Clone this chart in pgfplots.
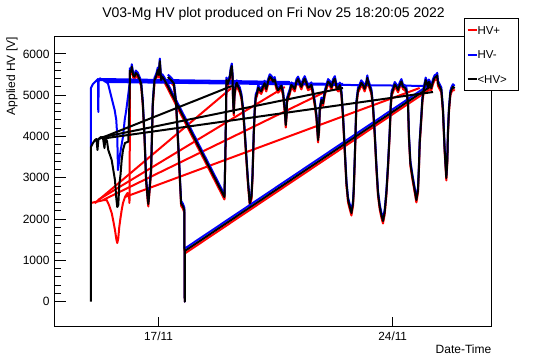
\documentclass[border=0pt]{standalone}
\usepackage{fontspec}
\setmainfont{Liberation Sans}
\usepackage{pgfplots}
\pgfplotsset{compat=1.18}
\usepackage{pgfplotstable}

% x = day of November 2022, y = applied HV [V]
\pgfplotstableread{
d avg hvp hvm
16.148 5609 5549 5669
16.181 5568 5508 5628
16.202 5689 5629 5749
16.241 5488 5428 5548
16.283 5447 5387 5507
16.322 5537 5477 5597
16.381 5488 5428 5548
16.441 5367 5307 5427
16.480 5287 5227 5347
16.531 4803 4743 4863
16.582 3995 3935 4055
16.630 2946 2886 3006
16.681 2462 2402 2522
16.696 2365 2305 2425
16.731 2704 2644 2764
16.779 3188 3128 3248
16.830 4803 4743 4863
16.881 5367 5307 5427
16.928 5447 5387 5507
16.979 5609 5549 5669
17.009 5488 5428 5548
17.039 5827 5767 5887
17.077 5367 5307 5427
17.113 5447 5387 5507
17.179 5367 5307 5427
17.227 5295 5235 5355
18.972 2535 2475 2595
19.001 3673 3613 3733
19.031 5367 5307 5427
19.070 5271 5211 5331
19.130 5416 5356 5476
19.160 5609 5549 5669
19.190 5706 5646 5766
19.211 5488 5428 5548
19.229 4883 4823 4943
19.250 4568 4508 4628
19.271 5004 4944 5064
19.310 5246 5186 5306
19.340 5300 5240 5360
19.379 5205 5145 5265
19.430 5125 5065 5185
19.480 4963 4903 5023
19.528 4641 4581 4701
19.579 4077 4017 4137
19.630 3431 3371 3491
19.677 2866 2806 2926
19.728 2382 2322 2442
19.779 2542 2482 2602
19.809 3026 2966 3086
19.847 4077 4017 4137
19.877 4641 4581 4701
19.907 4963 4903 5023
19.946 5045 4985 5105
19.980 5180 5120 5240
20.027 5125 5065 5185
20.070 5090 5030 5150
20.125 5205 5145 5265
20.170 5290 5230 5350
20.220 5150 5090 5210
20.275 5326 5266 5386
20.326 5447 5387 5507
20.376 5408 5348 5468
20.424 5326 5266 5386
20.470 5380 5320 5440
20.526 5205 5145 5265
20.570 5120 5060 5180
20.624 5166 5106 5226
20.670 5230 5170 5290
20.723 5045 4985 5105
20.774 4641 4581 4701
20.803 4278 4218 4338
20.824 4479 4419 4539
20.842 4883 4823 4943
20.923 5084 5024 5144
20.970 5250 5190 5310
21.021 5205 5145 5265
21.070 5150 5090 5210
21.123 5326 5266 5386
21.170 5390 5330 5450
21.222 5287 5227 5347
21.270 5200 5140 5260
21.320 5326 5266 5386
21.370 5400 5340 5460
21.422 5287 5227 5347
21.470 5180 5120 5240
21.520 5205 5145 5265
21.570 5250 5190 5310
21.619 5045 4985 5105
21.670 4803 4743 4863
21.721 4479 4419 4539
21.768 3915 3855 3975
21.798 4157 4097 4217
21.819 4641 4581 4701
21.870 4883 4823 4943
21.918 4803 4743 4863
21.968 5045 4985 5105
22.019 5205 5145 5265
22.070 5330 5270 5390
22.118 5287 5227 5347
22.170 5190 5130 5250
22.216 5326 5266 5386
22.270 5400 5340 5460
22.318 5205 5145 5265
22.370 5150 5090 5210
22.417 5246 5186 5306
22.468 5045 4985 5105
22.515 4479 4419 4539
22.566 3673 3613 3733
22.617 2866 2806 2926
22.665 2462 2402 2522
22.715 2300 2240 2360
22.766 2147 2087 2207
22.814 2382 2322 2442
22.835 2704 2644 2764
22.865 3431 3371 3491
22.894 4237 4177 4297
22.915 4803 4743 4863
22.963 5125 5065 5185
23.014 5205 5145 5265
23.060 5300 5240 5360
23.112 5246 5186 5306
23.160 5150 5090 5210
23.214 5287 5227 5347
23.240 5420 5360 5480
23.262 5326 5266 5386
23.312 5205 5145 5265
23.363 5084 5024 5144
23.411 4721 4661 4781
23.461 4077 4017 4137
23.512 3268 3208 3328
23.560 2624 2564 2684
23.610 2300 2240 2360
23.661 2099 2039 2159
23.709 1954 1894 2014
23.760 2172 2112 2232
23.810 2624 2564 2684
23.858 3268 3208 3328
23.909 4077 4017 4137
23.939 4721 4661 4781
23.968 5045 4985 5105
24.007 5125 5065 5185
24.060 5260 5200 5320
24.109 5205 5145 5265
24.160 5130 5070 5190
24.208 5246 5186 5306
24.260 5330 5270 5390
24.306 5205 5145 5265
24.360 5180 5120 5240
24.408 5125 5065 5185
24.456 4803 4743 4863
24.485 3995 3935 4055
24.527 3351 3291 3411
24.587 3026 2966 3086
24.656 2704 2644 2764
24.707 2462 2402 2522
24.755 2704 2644 2764
24.784 3268 3208 3328
24.805 3835 3775 3895
24.856 4479 4419 4539
24.886 4883 4823 4943
24.925 5125 5065 5185
24.985 5367 5307 5427
25.053 5205 5145 5265
25.080 5320 5260 5380
25.104 5287 5227 5347
25.150 5170 5110 5230
25.203 5326 5266 5386
25.250 5420 5360 5480
25.304 5447 5387 5507
25.330 5480 5420 5540
25.352 5287 5227 5347
25.403 5205 5145 5265
25.453 5125 5065 5185
25.501 4641 4581 4701
25.552 3673 3613 3733
25.602 2995 2935 3055
25.632 3431 3371 3491
25.650 4077 4017 4137
25.680 4641 4581 4701
25.722 5045 4985 5105
25.752 5125 5065 5185
25.800 5205 5145 5265
25.851 5166 5106 5226
}\mainA

\pgfplotstableread{
d avg hvp hvm
17.278 5440 5380 5500
17.376 5367 5307 5427
17.457 5287 5227 5347
17.526 4803 4743 4863
17.577 3995 3935 4055
17.627 3188 3128 3248
17.675 2382 2322 2442
17.726 2317 2257 2377
17.771 2220 2160 2280
17.785 0 0 0
17.785 1227 1167 1287
25.104 5198 5138 5258
}\partB

\begin{document}
\begin{tikzpicture}
\path[use as bounding box] (0,0) rectangle (546bp,362bp);
\begin{axis}[
  at={(54bp,36bp)}, anchor=south west,
  width=437.7bp, height=289.5bp, scale only axis,
  xmin=13.877, xmax=26.958, ymin=-588, ymax=6421,
  axis line style={line width=1bp},
  tick pos=left, tick align=inside,
  xtick={17,24}, xticklabels={17/11,24/11},
  ytick={0,1000,2000,3000,4000,5000,6000}, minor y tick num=4,
  scaled y ticks=false,
  xtick style={/pgfplots/major tick length=8.7bp, line width=1bp, black},
  ytick style={/pgfplots/major tick length=12.3bp, line width=1bp, black},
  minor tick length=6.5bp,
  /pgf/number format/assume math mode=true,
  /pgf/number format/1000 sep={},
  yticklabel style={font=\fontsize{12bp}{14bp}\selectfont, inner sep=0pt, xshift=-4.3bp},
  xticklabel style={font=\fontsize{11.8bp}{14bp}\selectfont, inner sep=0pt, yshift=-5.6bp},
  legend style={
    at={(0.9374,1.0629)}, anchor=north west,
    draw=black, line width=1bp, fill=white,
    inner xsep=1.7bp, inner ysep=7.3bp,
    font=\fontsize{11.5bp}{13bp}\selectfont,
    row sep=16.2bp,
    nodes={inner sep=0pt, text height=8.3bp, text depth=0pt},
    /tikz/every even column/.append style={column sep=2.7bp},
  },
  legend cell align=left,
  legend image code/.code={\draw[#1, line width=2bp] (0bp,0bp) -- (9bp,0bp);},
  every axis plot/.append style={line width=2bp, line join=round},
]
% ---------------- HV+ (red)
\addplot[red] coordinates {(14.982,2390)(15.102,2414)(15.251,2438)(15.371,2462)(15.451,2462)(15.520,2341)(15.601,2147)(15.655,1930)(15.699,1736)(15.744,1494)(15.768,1421)(15.798,1542)(15.828,1808)(15.864,2026)(15.900,2220)(15.939,2390)(15.998,2535)(16.073,2632)(16.118,2583)(16.133,2390)(16.142,3842)(16.148,5549)};
\addlegendentry{\makebox[39bp][l]{HV+}}
\addplot[red, forget plot] table[x=d, y=hvp] {\mainA};
\addplot[red, forget plot] table[x=d, y=hvp] {\partB};
\addplot[red, forget plot] coordinates {(15.093,2382)(19.169,5166)};
\addplot[red, forget plot] coordinates {(15.191,2462)(20.774,5198)};
\addplot[red, forget plot] coordinates {(15.998,2535)(24.805,5174)};
\addplot[red, forget plot] coordinates {(15.341,2462)(21.968,5077)};
% ---------------- HV- (blue)
\addplot[blue] coordinates {(14.982,3745)(14.982,5174)(15.042,5271)(15.102,5319)(15.161,5367)(15.191,5392)(15.200,4593)(15.215,5367)(15.251,5408)(15.341,5367)(15.430,5319)(15.490,5287)(15.589,4963)(15.690,4641)(15.738,4399)(15.768,3995)(15.789,3188)(15.840,3510)(15.888,3753)(15.939,3995)(15.990,4399)(16.037,4641)(16.088,4963)(16.139,5287)(16.148,5669)};
\addlegendentry{\makebox[39bp][l]{HV-}}
\addplot[blue, forget plot] table[x=d, y=hvm] {\mainA};
\addplot[blue, forget plot] table[x=d, y=hvm] {\partB};
\addplot[blue, forget plot] coordinates {(15.161,5367)(19.190,5295)};
\addplot[blue, forget plot] coordinates {(15.251,5392)(20.923,5319)};
\addplot[blue, forget plot] coordinates {(15.371,5343)(22.515,5271)};
\addplot[blue, forget plot] coordinates {(15.490,5319)(25.203,5222)};
% ---------------- <HV> (black)
\addplot[black] coordinates {(14.982,0)(14.982,3745)(15.042,3842)(15.102,3915)(15.146,3939)(15.176,3673)(15.206,3939)(15.281,3987)(15.341,3963)(15.385,3721)(15.415,3963)(15.460,3891)(15.499,3673)(15.550,3552)(15.601,3431)(15.640,3237)(15.699,2946)(15.738,2511)(15.768,2293)(15.798,2341)(15.828,2825)(15.864,3067)(15.900,3431)(15.939,3673)(15.998,3842)(16.097,3874)(16.133,4883)(16.148,5609)};
\addlegendentry{\makebox[39bp][l]{<HV>}}
\addplot[black, forget plot] table[x=d, y=avg] {\mainA};
\addplot[black, forget plot] table[x=d, y=avg] {\partB};
\addplot[black, forget plot] coordinates {(15.22,3940)(19.190,5222)};
\addplot[black, forget plot] coordinates {(15.31,3980)(22.515,5174)};
\addplot[black, forget plot] coordinates {(15.43,3960)(25.203,5077)};
\end{axis}
\node[font=\fontsize{14bp}{16bp}\selectfont, anchor=base, inner sep=0pt] at (273.5bp,344bp) {V03-Mg HV plot produced on Fri Nov 25 18:20:05 2022};
\node[font=\fontsize{12bp}{14bp}\selectfont, rotate=90, anchor=east, inner sep=0pt] at (12bp,325bp) {Applied HV [V]};
\node[font=\fontsize{12bp}{14bp}\selectfont, anchor=base east, inner sep=0pt] at (491.5bp,8.1bp) {Date-Time};
\end{tikzpicture}
\end{document}
